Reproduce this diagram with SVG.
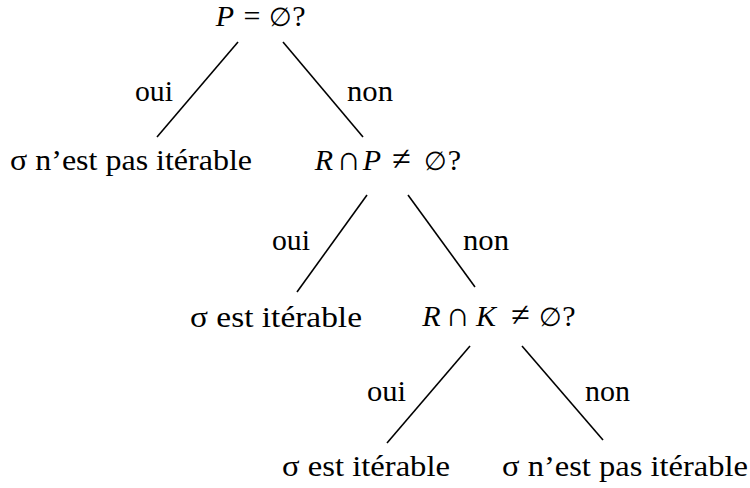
<svg xmlns="http://www.w3.org/2000/svg" width="750" height="488" viewBox="0 0 750 488">
<style>
text{font-family:"Liberation Serif","DejaVu Serif",serif;font-size:30px;fill:#000}
.m{text-anchor:middle}
.i{font-style:italic}
.z{font-size:26px}
.o{font-size:34px}
.e line{stroke:#000;stroke-width:1.6;stroke-linecap:butt}
</style>
<rect width="750" height="488" fill="#fff"/>
<g class="e" id="connectors">
<line x1="238" y1="42" x2="157" y2="137"/>
<line x1="283" y1="42" x2="363" y2="137"/>
<line x1="367" y1="195" x2="297" y2="292"/>
<line x1="408" y1="195" x2="475" y2="287"/>
<line x1="470" y1="346" x2="387" y2="443"/>
<line x1="522" y1="346" x2="603" y2="440"/>
<text x="135" y="101" textLength="38" lengthAdjust="spacingAndGlyphs">oui</text>
<text x="347" y="101" textLength="46" lengthAdjust="spacingAndGlyphs">non</text>
<text x="272" y="250" textLength="38" lengthAdjust="spacingAndGlyphs">oui</text>
<text x="463" y="250" textLength="46" lengthAdjust="spacingAndGlyphs">non</text>
<text x="367" y="401" textLength="39" lengthAdjust="spacingAndGlyphs">oui</text>
<text x="585" y="401" textLength="45" lengthAdjust="spacingAndGlyphs">non</text>
</g>
<g id="n1"><text class="m" y="26"><tspan class="i" x="225">P</tspan><tspan x="252">=</tspan><tspan class="z" x="280.5">∅</tspan><tspan x="299">?</tspan></text></g>
<g id="n2"><text x="10" y="170" textLength="242" lengthAdjust="spacingAndGlyphs">σ n’est pas itérable</text></g>
<g id="n3"><text class="m" y="170"><tspan class="i" x="324">R</tspan><tspan class="o" x="348.5">∩</tspan><tspan class="i" x="372">P</tspan><tspan class="o" x="401.5">≠</tspan><tspan class="z" x="435.5">∅</tspan><tspan x="454.5">?</tspan></text></g>
<g id="n4"><text x="190" y="327" textLength="172" lengthAdjust="spacingAndGlyphs">σ est itérable</text></g>
<g id="n5"><text class="m" y="326"><tspan class="i" x="431.5">R</tspan><tspan class="o" x="457.5">∩</tspan><tspan class="i" x="486">K</tspan><tspan class="o" x="520.5">≠</tspan><tspan class="z" x="550">∅</tspan><tspan x="569">?</tspan></text></g>
<g id="n6"><text x="282" y="476" textLength="168" lengthAdjust="spacingAndGlyphs">σ est itérable</text></g>
<g id="n7"><text x="502" y="476" textLength="246" lengthAdjust="spacingAndGlyphs">σ n’est pas itérable</text></g>
</svg>
